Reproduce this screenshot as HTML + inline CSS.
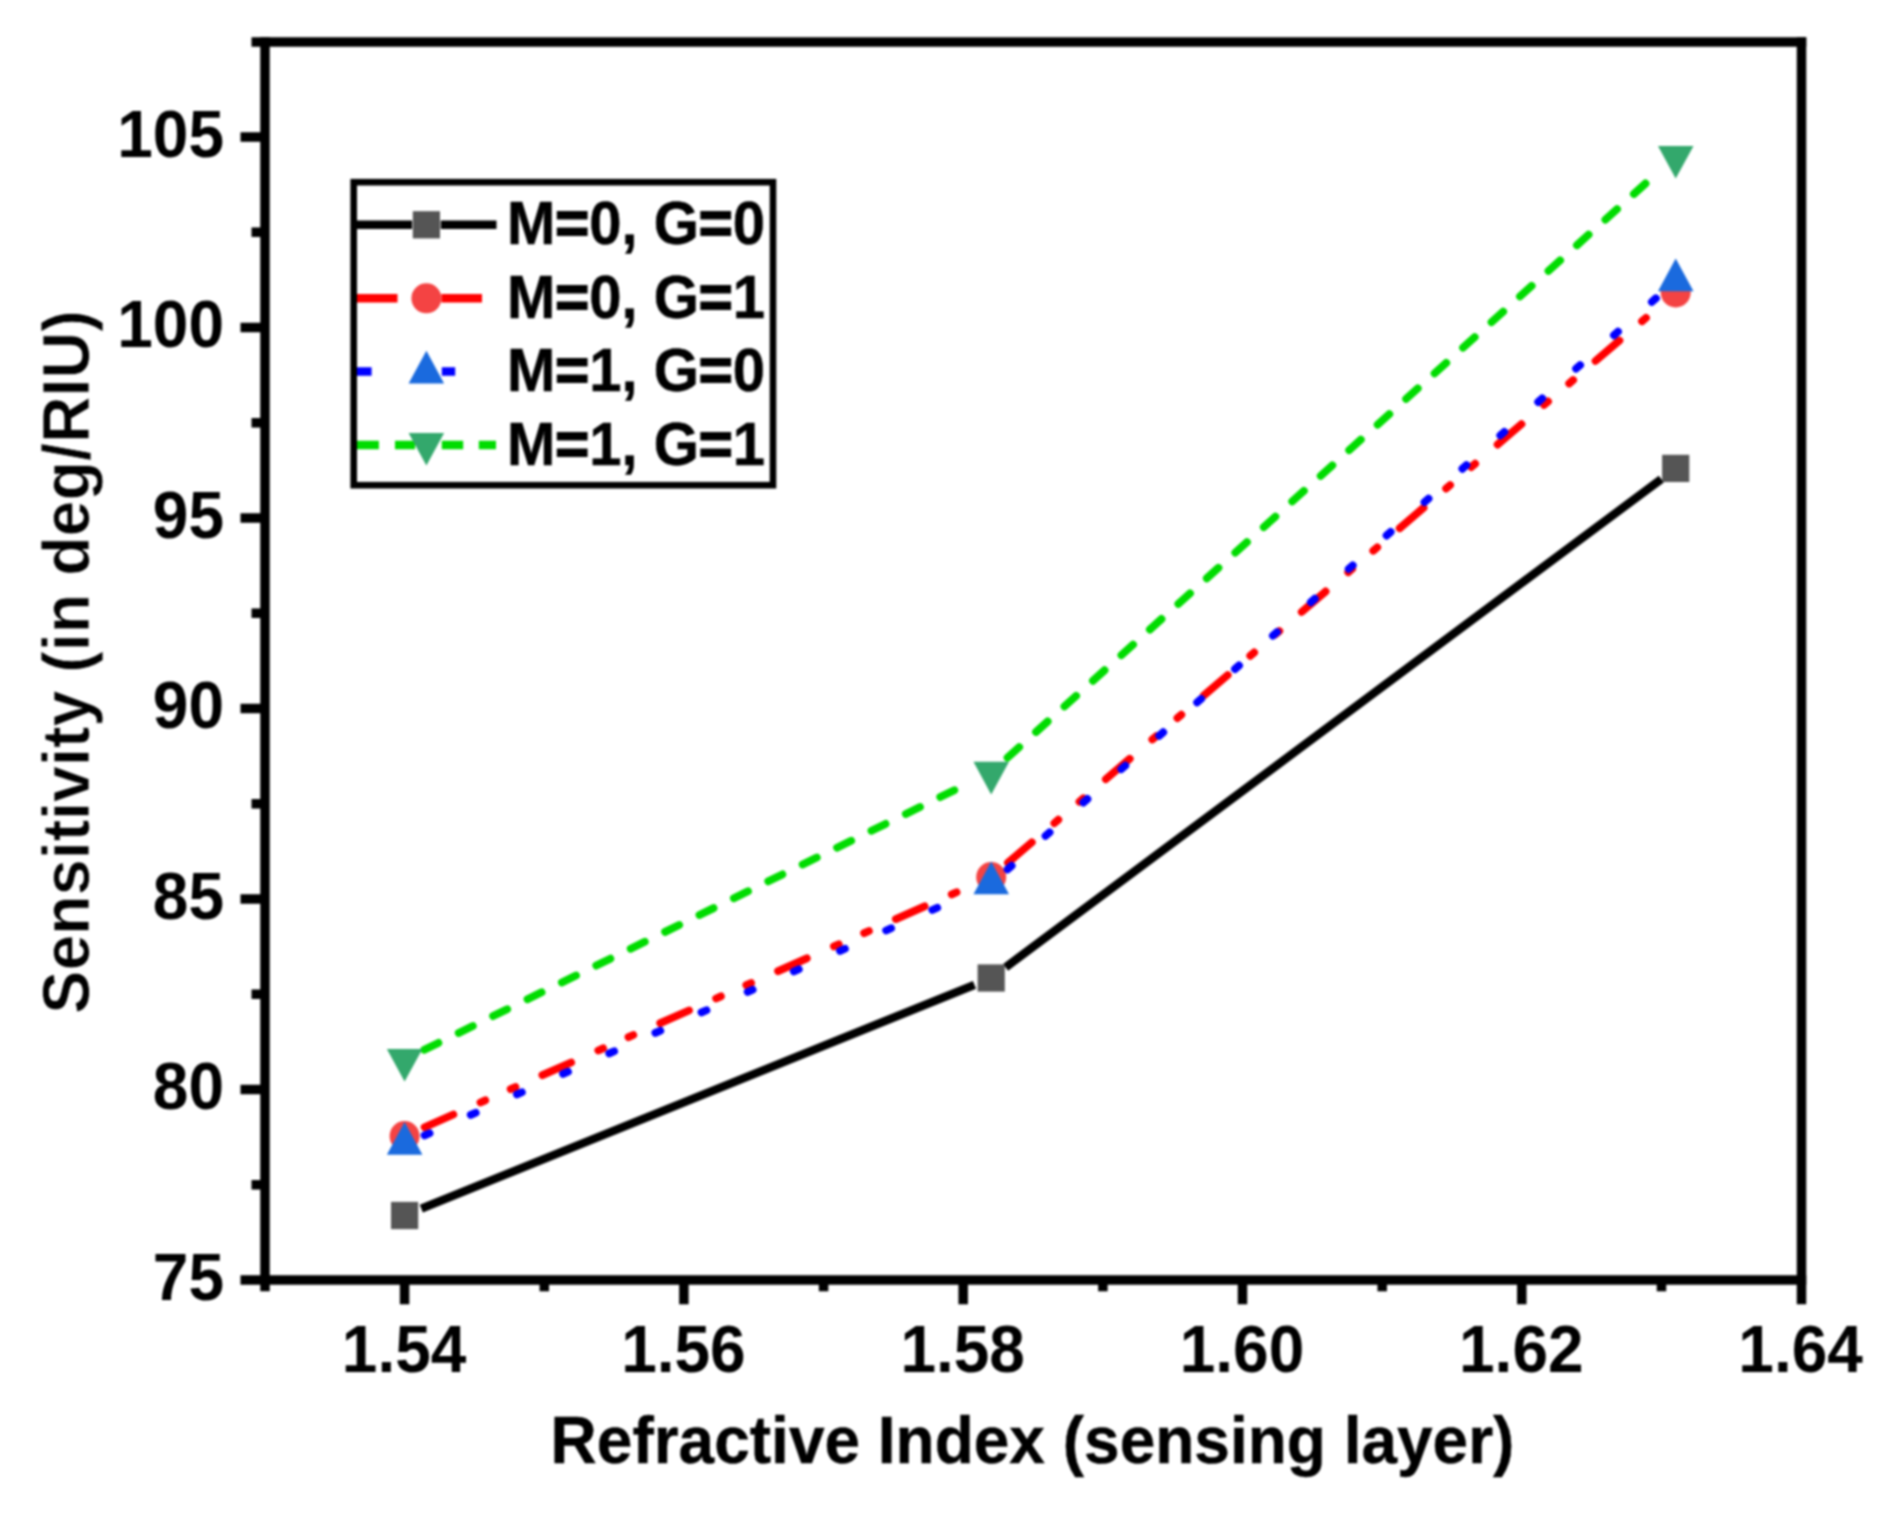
<!DOCTYPE html>
<html lang="en"><head><meta charset="utf-8"><title>Sensitivity vs Refractive Index</title>
<style>html,body{margin:0;padding:0;background:#fff;}svg{display:block;filter:blur(1px);}.t text{font-family:"Liberation Sans",Arial,Helvetica,sans-serif;font-weight:bold;}</style></head>
<body>
<svg width="1895" height="1517" viewBox="0 0 1895 1517">
<rect width="1895" height="1517" fill="#fff"/>
<g stroke="#000" stroke-width="9.5" fill="none" stroke-linecap="butt">
<path d="M265.0 37.25 V1291.3"/>
<path d="M1801.5 37.25 V1304.3"/>
<path d="M251.5 42.0 H1806.25"/>
<path d="M240.5 1280.0 H1806.25"/>
<path d="M240.5 1089.5 H265.0"/>
<path d="M240.5 899.0 H265.0"/>
<path d="M240.5 708.5 H265.0"/>
<path d="M240.5 518.0 H265.0"/>
<path d="M240.5 327.5 H265.0"/>
<path d="M240.5 137.0 H265.0"/>
<path d="M251.5 1184.8 H265.0"/>
<path d="M251.5 994.2 H265.0"/>
<path d="M251.5 803.8 H265.0"/>
<path d="M251.5 613.2 H265.0"/>
<path d="M251.5 422.8 H265.0"/>
<path d="M251.5 232.2 H265.0"/>
<path d="M404.6 1280.0 V1304.3"/>
<path d="M683.9 1280.0 V1304.3"/>
<path d="M963.2 1280.0 V1304.3"/>
<path d="M1242.5 1280.0 V1304.3"/>
<path d="M1521.8 1280.0 V1304.3"/>
<path d="M544.3 1280.0 V1291.3"/>
<path d="M823.6 1280.0 V1291.3"/>
<path d="M1102.9 1280.0 V1291.3"/>
<path d="M1382.2 1280.0 V1291.3"/>
<path d="M1661.5 1280.0 V1291.3"/>
</g>
<g class="t" font-size="64" fill="#000">
<text transform="translate(224 1299.8) scale(1 1.045)" text-anchor="end">75</text>
<text transform="translate(224 1109.3) scale(1 1.045)" text-anchor="end">80</text>
<text transform="translate(224 918.8) scale(1 1.045)" text-anchor="end">85</text>
<text transform="translate(224 728.3) scale(1 1.045)" text-anchor="end">90</text>
<text transform="translate(224 537.8) scale(1 1.045)" text-anchor="end">95</text>
<text transform="translate(224 347.3) scale(1 1.045)" text-anchor="end">100</text>
<text transform="translate(224 156.8) scale(1 1.045)" text-anchor="end">105</text>
<text transform="translate(404.1 1372.3) scale(1 1.045)" text-anchor="middle">1.54</text>
<text transform="translate(683.4 1372.3) scale(1 1.045)" text-anchor="middle">1.56</text>
<text transform="translate(962.7 1372.3) scale(1 1.045)" text-anchor="middle">1.58</text>
<text transform="translate(1242.0 1372.3) scale(1 1.045)" text-anchor="middle">1.60</text>
<text transform="translate(1521.3 1372.3) scale(1 1.045)" text-anchor="middle">1.62</text>
<text transform="translate(1800.6 1372.3) scale(1 1.045)" text-anchor="middle">1.64</text>
<text transform="translate(1032.5 1463) scale(1 1.05)" text-anchor="middle" stroke="#000" stroke-width="0.4">Refractive Index (sensing layer)</text>
<text transform="translate(88.8 662) rotate(-90) scale(1 1.045)" text-anchor="middle" font-size="64.6" stroke="#fff" stroke-width="0.7">Sensitivity (in deg/RIU)</text>
</g>
<path d="M421.3 1208.7 L974.5 984.8" stroke="#000" stroke-width="8.4" fill="none"/>
<path d="M1005.6 967.3 L1661.3 479.1" stroke="#000" stroke-width="8.4" fill="none"/>
<rect x="391.0" y="1201.9" width="27.2" height="27.2" fill="#555555"/>
<rect x="977.6" y="964.4" width="27.2" height="27.2" fill="#555555"/>
<rect x="1662.1" y="454.8" width="27.2" height="27.2" fill="#555555"/>
<path d="M424.6 1127.2 L971.2 885.8" stroke="#ff0000" stroke-width="7.8" fill="none" stroke-dasharray="31.4 29.7 5.2 27.8 5.2 29.5" stroke-linecap="round"/>
<path d="M1007.9 862.8 L1659.0 306.7" stroke="#ff0000" stroke-width="7.8" fill="none" stroke-dasharray="31.4 29.7 5.2 27.8 5.2 29.5" stroke-linecap="round"/>
<circle cx="404.6" cy="1136.0" r="15" fill="#f44343"/>
<circle cx="991.2" cy="877.0" r="15" fill="#f44343"/>
<circle cx="1675.7" cy="292.5" r="15" fill="#f44343"/>
<path d="M424.6 1135.4 L971.2 892.7" stroke="#0000ff" stroke-width="7.8" fill="none" stroke-dasharray="5.4 45.1" stroke-linecap="round"/>
<path d="M1007.6 869.3 L1659.3 295.3" stroke="#0000ff" stroke-width="7.8" fill="none" stroke-dasharray="5.4 45.1" stroke-linecap="round"/>
<path d="M386.9 1154.7 L422.4 1154.7 L404.6 1122.1 Z" fill="#1a6ade"/>
<path d="M973.5 894.2 L1009.0 894.2 L991.2 861.6 Z" fill="#1a6ade"/>
<path d="M1658.0 291.2 L1693.5 291.2 L1675.7 258.6 Z" fill="#1a6ade"/>
<path d="M424.3 1049.8 L971.5 781.8" stroke="#00dc00" stroke-width="7.8" fill="none" stroke-dasharray="15.7 22.6" stroke-linecap="round"/>
<path d="M1007.5 757.6 L1659.4 171.0" stroke="#00dc00" stroke-width="7.8" fill="none" stroke-dasharray="15.7 22.6" stroke-linecap="round"/>
<path d="M386.9 1049.0 L422.4 1049.0 L404.6 1081.6 Z" fill="#33a86c"/>
<path d="M973.5 761.8 L1009.0 761.8 L991.2 794.4 Z" fill="#33a86c"/>
<path d="M1658.0 146.0 L1693.5 146.0 L1675.7 178.6 Z" fill="#33a86c"/>
<rect x="353.7" y="182.2" width="419.3" height="303" fill="#fff"/>
<path d="M357 224.8 H412.0 M440.79999999999995 224.8 H496.5" stroke="#000" stroke-width="8.4" fill="none"/>
<rect x="412.8" y="211.2" width="27.2" height="27.2" fill="#555555"/>
<path d="M356 298.3 H397.5 M441.4 298.3 H482" stroke="#ff0000" stroke-width="8.4" fill="none"/>
<circle cx="426.4" cy="298.3" r="15" fill="#f44343"/>
<path d="M356 371.5 H371.6 M441.8 371.5 H455.2" stroke="#0000ff" stroke-width="8.4" fill="none"/>
<path d="M408.6 383.4 L444.1 383.4 L426.4 350.8 Z" fill="#1a6ade"/>
<path d="M356 445.0 H378.9 M395 445.0 H415 M441.8 445.0 H463.2 M478.8 445.0 H496.0" stroke="#00dc00" stroke-width="8.4" fill="none"/>
<path d="M408.6 433.0 L444.1 433.0 L426.4 465.6 Z" fill="#33a86c"/>
<rect x="353.7" y="182.2" width="419.3" height="303" fill="none" stroke="#000" stroke-width="6.6"/>
<g class="t" font-size="58" fill="#000" stroke="#000" stroke-width="0.5">
<text transform="translate(507 244.2) scale(1 1.05)">M<tspan stroke-width="1.7">=</tspan>0, G<tspan stroke-width="1.7">=</tspan>0</text>
<text transform="translate(507 318.2) scale(1 1.05)">M<tspan stroke-width="1.7">=</tspan>0, G<tspan stroke-width="1.7">=</tspan>1</text>
<text transform="translate(507 391) scale(1 1.05)">M<tspan stroke-width="1.7">=</tspan>1, G<tspan stroke-width="1.7">=</tspan>0</text>
<text transform="translate(507 464.5) scale(1 1.05)">M<tspan stroke-width="1.7">=</tspan>1, G<tspan stroke-width="1.7">=</tspan>1</text>
</g>
</svg>
</body></html>
